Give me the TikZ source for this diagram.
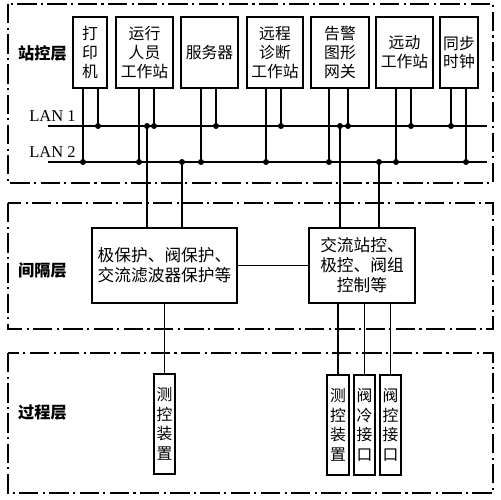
\documentclass[tikz,border=0pt]{standalone}
\usepackage{fontspec}
\setmainfont{Liberation Serif}
\newfontfamily\cjk{Noto Sans CJK SC}
\begin{document}
\begin{tikzpicture}[x=0.02cm,y=-0.02cm,
                unit box/.style={draw,line width=0.6pt,inner sep=0pt,align=center,font=\cjk\fontsize{9}{10.8}\selectfont},
                bay box/.style={unit box,font=\cjk\fontsize{9.5}{11.4}\selectfont,minimum height=1.5cm},
                field box/.style={unit box,font=\cjk\fontsize{9}{11.1}\selectfont,minimum height=2cm},
                layer frame/.style={line width=0.6pt,dash pattern=on 11pt off 2.5pt on 1.2pt off 2.5pt},
                layer name/.style={font=\cjk\bfseries\fontsize{9.2}{11}\selectfont,anchor=west},
                lan/.style={line width=1.3pt},
                tap/.style={line width=0.6pt},
                dot/.style={circle,fill=black,inner sep=0pt,minimum size=0.12cm},
                ]
                \useasboundingbox (0,0) rectangle (500,500);

                % layers
                \draw[layer frame] (8,4) rectangle (493,183);
                \draw[layer frame] (8,203) rectangle (493,329);
                \draw[layer frame] (8,353) rectangle (493,493);
                \node[layer name] (stn) at (12,53) {站控层};
                \node[layer name] (bay) at (12,270) {间隔层};
                \node[layer name] (proc) at (12,413) {过程层};

                % station layer
                \node[unit box,minimum width=0.68cm,minimum height=1.42cm] (prn) at (90,52.5) {打\\印\\机};
                \node[unit box,minimum width=1.14cm,minimum height=1.42cm] (op) at (144.5,52.5) {运行\\人员\\工作站};
                \node[unit box,minimum width=1.14cm,minimum height=1.42cm] (srv) at (209.5,52.5) {服务器};
                \node[unit box,minimum width=1.12cm,minimum height=1.42cm] (diag) at (275,52.5) {远程\\诊断\\工作站};
                \node[unit box,minimum width=1.16cm,minimum height=1.42cm] (alarm) at (340,52.5) {告警\\图形\\网关};
                \node[unit box,minimum width=1.14cm,minimum height=1.42cm] (rtu) at (404.5,52.5) {远动\\工作站};
                \node[unit box,minimum width=0.76cm,minimum height=1.42cm] (clk) at (459,52.5) {同步\\时钟};

                \node[anchor=base west,font=\fontsize{9.4}{11}\selectfont,inner sep=0pt] (lan1txt) at (29,121) {LAN 1};
                \node[anchor=base west,font=\fontsize{9.4}{11}\selectfont,inner sep=0pt] (lan2txt) at (29,157) {LAN 2};
                \coordinate (lan1) at (48,126);
                \coordinate (lan1e) at (487,126);
                \coordinate (lan2) at (48,162);
                \coordinate (lan2e) at (487,162);
                \draw[lan] (lan1) -- (lan1e);
                \draw[lan] (lan2) -- (lan2e);

                % bay layer
                \node[bay box,minimum width=2.9cm] (prot) at (164.5,265.5) {极保护、阀保护、\\交流滤波器保护等};
                \node[bay box,minimum width=2.12cm] (ctrl) at (362,265.5) {交流站控、\\极控、阀组\\控制等};
                \draw[tap] (prot) -- (ctrl);

                % process layer
                \node[field box,minimum width=0.42cm] (meas1) at (164.5,424) {测\\控\\装\\置};
                \node[field box,minimum width=0.44cm] (meas2) at (338,425) {测\\控\\装\\置};
                \node[field box,minimum width=0.42cm] (vcool) at (364.5,425) {阀\\冷\\接\\口};
                \node[field box,minimum width=0.42cm] (vctl) at (390.5,425) {阀\\控\\接\\口};

                % taps onto the LANs
                \foreach \n/\dx/\l in {prn.south/-7/2, prn.south/8/1, op.south/-5.5/2, op.south/9.5/1,
                    srv.south/-8.5/2, srv.south/6.5/1, diag.south/-9/2, diag.south/6/1,
                    alarm.south/-11/2, alarm.south/8/1, rtu.south/-8.5/2, rtu.south/6.5/1,
                    clk.south/-8/1, clk.south/7/2,
                    prot.north/-17.5/1, prot.north/17.5/2, ctrl.north/-22/1, ctrl.north/17/2}{
                    \path ([xshift=\dx*0.02cm]\n) coordinate (t);
                    \draw[tap] (t) -- (t |- lan\l) node[dot] {};
                }

                \draw[tap] (prot.south -| meas1.north) -- (meas1.north);
                \foreach \m in {meas2,vcool,vctl}
                    \draw[tap] (ctrl.south -| \m.north) -- (\m.north);
            \end{tikzpicture}
\end{document}
